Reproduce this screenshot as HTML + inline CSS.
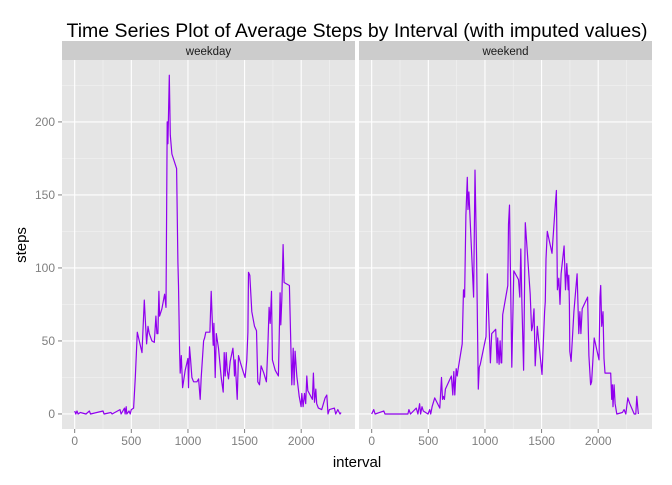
<!DOCTYPE html>
<html><head><meta charset="utf-8"><style>
body{margin:0;background:#fff;font-family:"Liberation Sans",sans-serif}
</style></head><body>
<svg id="chart" width="672" height="480" xmlns="http://www.w3.org/2000/svg" font-family="Liberation Sans, sans-serif">
<text x="357" y="37" text-anchor="middle" font-size="19.5" fill="#000">Time Series Plot of Average Steps by Interval (with imputed values)</text>
<text transform="translate(26,245) rotate(-90)" text-anchor="middle" font-size="15">steps</text>
<text x="357" y="467" text-anchor="middle" font-size="15">interval</text>
<g id="panels"></g>
</svg>
<script>
const panelNames = ["weekday", "weekend"];
const xTicks = [0, 500, 1000, 1500, 2000];
const yTicks = [0, 50, 100, 150, 200];
const weekdayInterval = [0,10,20,30,50,100,130,140,250,260,320,330,400,410,440,445,455,460,480,490,500,520,535,553,594,615,623,635,647,659,682,703,717,726,735,744,750,770,794,806,817,823,835,844,858,900,911,917,926,932,941,953,976,1000,1005,1014,1023,1035,1050,1079,1094,1108,1117,1138,1147,1158,1194,1205,1214,1223,1229,1241,1250,1270,1294,1311,1320,1329,1338,1347,1358,1373,1397,1405,1411,1417,1423,1435,1446,1464,1491,1505,1520,1529,1535,1546,1564,1588,1605,1617,1632,1646,1670,1693,1705,1717,1726,1738,1746,1770,1799,1814,1820,1829,1840,1849,1896,1917,1929,1937,1946,1961,1982,1999,2005,2017,2029,2040,2049,2058,2079,2099,2108,2117,2129,2137,2152,2181,2211,2226,2237,2249,2293,2305,2323,2343,2352];
const weekdaySteps = [2,0,2,0,1,0,2,0,2,0,1,0,3,0,4,0,5,0,2,0,3,4,25,56,42,78,66,48,60,55,50,49,67,55,55,84,67,72,82,73,200,185,232,191,178,168,104,88,43,28,40,18,30,38,18,46,38,25,22,22,24,10,25,50,52,56,56,84,65,47,62,25,55,45,25,15,42,26,42,30,24,36,45,37,26,37,27,10,40,35,28,25,37,56,97,95,70,60,57,22,20,33,28,22,45,73,62,84,37,30,26,83,61,78,116,90,88,20,45,20,43,26,12,5,14,5,14,7,26,16,13,10,28,8,17,7,4,3,11,13,0,3,4,0,3,0,1];
const weekendInterval = [0,18,30,107,118,320,329,343,394,408,423,432,444,456,497,512,521,533,556,601,616,625,633,642,651,704,716,725,734,746,755,764,799,811,820,832,844,850,858,900,912,926,941,950,959,1009,1021,1030,1048,1060,1095,1107,1113,1125,1134,1143,1148,1157,1202,1208,1217,1237,1255,1296,1308,1317,1326,1341,1356,1400,1412,1421,1433,1444,1462,1504,1527,1533,1539,1551,1592,1622,1631,1640,1652,1663,1672,1699,1711,1723,1735,1740,1746,1749,1761,1785,1814,1829,1838,1847,1859,1906,1918,1933,1942,1965,2007,2016,2022,2031,2042,2051,2060,2110,2119,2125,2131,2140,2149,2164,2214,2229,2244,2261,2279,2318,2332,2341,2350,2355];
const weekendSteps = [0,3,0,2,0,0,3,0,4,0,7,0,5,2,0,3,0,5,11,4,25,10,12,10,17,26,13,29,13,31,26,31,48,85,80,136,162,140,152,80,167,107,17,32,34,53,96,75,35,55,58,35,52,34,50,35,35,68,88,130,143,32,98,92,80,113,76,30,131,82,57,60,72,33,60,27,70,77,106,125,110,144,153,85,93,75,96,115,85,103,85,95,75,43,36,70,96,55,70,55,72,80,40,20,22,52,37,80,88,60,70,38,28,28,10,20,5,20,7,0,1,3,0,11,7,0,0,12,4,0];
const seriesX = [weekdayInterval, weekendInterval];
const seriesY = [weekdaySteps, weekendSteps];

const NS = "http://www.w3.org/2000/svg";
const panelLeft = [62, 359], panelW = 293, panelTop = 60, panelBottom = 429;
const xMin = -112, xMax = 2475, yMin = -10.3, yMax = 242.4;
function xScale(p, v){ return panelLeft[p] + (v - xMin) / (xMax - xMin) * panelW; }
function yScale(v){ return panelBottom - (v - yMin) / (yMax - yMin) * (panelBottom - panelTop); }
function mk(tag, attrs, parent){ const e = document.createElementNS(NS, tag); for (const k in attrs) e.setAttribute(k, attrs[k]); parent.appendChild(e); return e; }
const root = document.getElementById("panels");
panelNames.forEach((name, p) => {
  const g = mk("g", {}, root);
  
  
  const bg = mk("rect", {x: panelLeft[p], y: panelTop, width: panelW, height: panelBottom - panelTop, fill: "#E5E5E5"}, g);
  
  
  for (let i = 0; i < yTicks.length; i++) {
    const mv = yTicks[i] + 25;
    if (mv < yMax) mk("line", {x1: panelLeft[p], x2: panelLeft[p] + panelW, y1: yScale(mv), y2: yScale(mv), stroke: "#F2F2F2", "stroke-width": 0.6}, g);
  }
  for (let i = 0; i < xTicks.length; i++) {
    const mv = xTicks[i] + 250;
    if (mv < xMax) mk("line", {x1: xScale(p, mv), x2: xScale(p, mv), y1: panelTop, y2: panelBottom, stroke: "#F2F2F2", "stroke-width": 0.6}, g);
  }
  yTicks.forEach(t => {
    const l = mk("line", {x1: panelLeft[p], x2: panelLeft[p] + panelW, y1: yScale(t), y2: yScale(t), stroke: "#fff", "stroke-width": 1.1}, g);
    
    
  });
  xTicks.forEach(t => {
    const l = mk("line", {x1: xScale(p, t), x2: xScale(p, t), y1: panelTop, y2: panelBottom, stroke: "#fff", "stroke-width": 1.1}, g);
    
    
    mk("line", {x1: xScale(p, t), x2: xScale(p, t), y1: panelBottom, y2: panelBottom + 4, stroke: "#7F7F7F"}, g);
    const tx = mk("text", {x: xScale(p, t), y: panelBottom + 16, "text-anchor": "middle", "font-size": 12, fill: "#7F7F7F"}, g);
    tx.textContent = t;
    
    
  });
  const strip = mk("rect", {x: panelLeft[p], y: 41, width: panelW, height: 19, fill: "#CCCCCC"}, g);
  
  
  const st = mk("text", {x: panelLeft[p] + panelW / 2, y: 55, "text-anchor": "middle", "font-size": 11.5, fill: "#1a1a1a"}, g);
  st.textContent = name;
  
  
  const xs = seriesX[p], ys = seriesY[p];
  let d = "";
  for (let i = 0; i < xs.length; i++) d += (i ? "L" : "M") + xScale(p, xs[i]).toFixed(1) + "," + yScale(ys[i]).toFixed(1);
  const path = mk("path", {d: d, fill: "none", stroke: "#9000EE", "stroke-width": 1.2, "stroke-linejoin": "round"}, g);
  
  
});
yTicks.forEach(t => {
  mk("line", {x1: 58, x2: 62, y1: yScale(t), y2: yScale(t), stroke: "#7F7F7F"}, root);
  const tx = mk("text", {x: 55, y: yScale(t) + 4, "text-anchor": "end", "font-size": 12, fill: "#7F7F7F"}, root);
  tx.textContent = t;
  
  
});
</script>
</body></html>
